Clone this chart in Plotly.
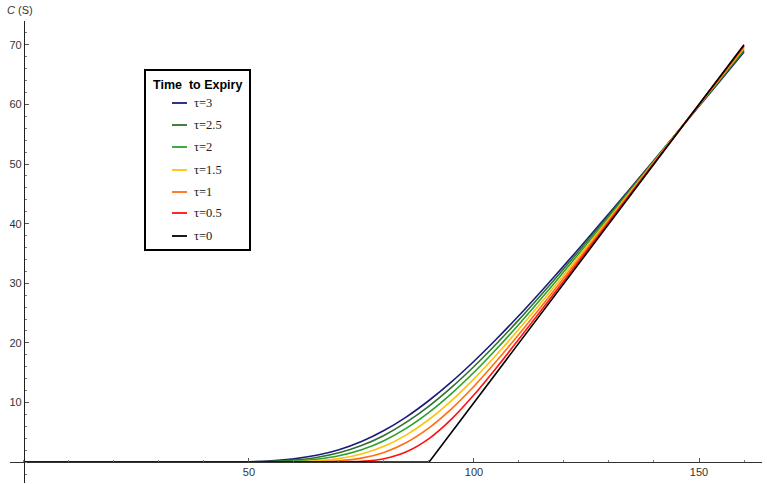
import plotly.graph_objects as go

# ---------------- data ----------------
S = [0, 30, 40, 45, 50, 55, 60, 65, 70, 75, 80, 85, 90, 95, 100, 105, 110,
     115, 120, 125, 130, 135, 140, 145, 150, 155, 160]
C_tau3 = [0, 0, 0, 0.02, 0.07, 0.22, 0.55, 1.14, 2.08, 3.46, 5.30, 7.60, 10.34,
          13.46, 16.92, 20.65, 24.60, 28.72, 32.96, 37.30, 41.71, 46.16, 50.66,
          55.17, 59.70, 64.25, 68.80]
C_tau25 = [0, 0, 0, 0.01, 0.03, 0.12, 0.34, 0.78, 1.56, 2.78, 4.48, 6.70, 9.40,
           12.54, 16.05, 19.86, 23.90, 28.13, 32.48, 36.92, 41.43, 45.98, 50.56,
           55.16, 59.78, 64.40, 69.03]
C_tau2 = [0, 0, 0, 0, 0.01, 0.05, 0.17, 0.47, 1.06, 2.07, 3.60, 5.70, 8.35,
          11.50, 15.07, 18.98, 23.14, 27.49, 31.96, 36.52, 41.14, 45.79, 50.46,
          55.15, 59.85, 64.55, 69.25]
C_tau15 = [0, 0, 0, 0, 0, 0.01, 0.06, 0.21, 0.59, 1.36, 2.65, 4.58, 7.15,
           10.32, 13.97, 18.01, 22.32, 26.82, 31.43, 36.12, 40.84, 45.59, 50.36,
           55.13, 59.91, 64.68, 69.46]
C_tau1 = [0, 0, 0, 0, 0, 0, 0.01, 0.05, 0.22, 0.67, 1.63, 3.29, 5.74,
          8.93, 12.72, 16.95, 21.47, 26.14, 30.91, 35.72, 40.56, 45.40, 50.25,
          55.10, 59.96, 64.81, 69.66]
C_tau05 = [0, 0, 0, 0, 0, 0, 0, 0, 0.02, 0.13, 0.58, 1.74, 3.94,
           7.21, 11.29, 15.85, 20.64, 25.53, 30.44, 35.36, 40.29, 45.21, 50.14,
           55.06, 59.99, 64.91, 69.84]
S_tau0 = [0, 90, 160]
C_tau0 = [0, 0, 70]

series_labels = ["τ=3", "τ=2.5", "τ=2", "τ=1.5", "τ=1", "τ=0.5", "τ=0"]
colors = ["#1b1b7e", "#2e7030", "#2ca02c", "#ffc20e", "#ff6f10", "#ff1010", "#000000"]

x_ticks = [50, 100, 150]
y_ticks = [10, 20, 30, 40, 50, 60, 70]

# ---------------- figure ----------------
W, H = 767, 484
ML, MR, MT, MB = 10, 5, 21, 1
XR = [-3.1, 164]
YR = [-3.5, 74]

def px(xp):
    return (xp - ML) / (W - ML - MR)

def py(yp):
    return 1 - (yp - MT) / (H - MT - MB)

fig = go.Figure()
curves = [(S, C_tau3), (S, C_tau25), (S, C_tau2), (S, C_tau15), (S, C_tau1),
          (S, C_tau05), (S_tau0, C_tau0)]
for (xs, ys), lab, col in zip(curves, series_labels, colors):
    fig.add_trace(go.Scatter(
        x=xs, y=ys, mode="lines", name=lab, showlegend=False,
        line=dict(color=col, width=1.6,
                  shape="spline" if len(xs) > 3 else "linear", smoothing=0.8),
        hoverinfo="skip"))

tickfont = dict(family="Liberation Sans, Arial, sans-serif", size=11, color="#333")
fig.update_layout(
    width=W, height=H,
    margin=dict(l=ML, r=MR, t=MT, b=MB, autoexpand=False),
    plot_bgcolor="white", paper_bgcolor="white",
    xaxis=dict(range=XR, anchor="free", position=3.5 / 77.5, automargin=False,
               showline=True, linecolor="#333", linewidth=1,
               showgrid=False, zeroline=False,
               tickvals=x_ticks, ticks="inside", ticklen=4, tickcolor="#555",
               tickfont=tickfont,
               minor=dict(dtick=10, tick0=0, ticks="inside", ticklen=2.5,
                          tickcolor="#777", showgrid=False)),
    yaxis=dict(range=YR, anchor="free", position=3.1 / 167.1, automargin=False,
               showline=True, linecolor="#222", linewidth=1,
               showgrid=False, zeroline=False,
               tickvals=y_ticks, ticks="inside", ticklen=4, tickcolor="#555",
               tickfont=tickfont,
               minor=dict(dtick=2, tick0=0, ticks="inside", ticklen=2.5,
                          tickcolor="#777", showgrid=False)),
)

# axis label C(S)
fig.add_annotation(x=px(5), y=py(10), xref="paper", yref="paper",
                   xanchor="left", yanchor="middle", showarrow=False,
                   text="<i>C</i> (S)",
                   font=dict(family="Liberation Sans, Arial, sans-serif", size=11, color="#333"))

# legend box
fig.add_shape(type="rect", xref="paper", yref="paper",
              x0=px(145), x1=px(250), y0=py(250), y1=py(70),
              line=dict(color="black", width=2), fillcolor="white", layer="above")
fig.add_annotation(x=px(197), y=py(85), xref="paper", yref="paper",
                   xanchor="center", yanchor="middle", showarrow=False,
                   text="<b>Time  to Expiry</b>",
                   font=dict(family="Liberation Sans, Arial, sans-serif", size=12.5, color="black"))
item_y = [103, 125, 147, 170, 192, 213, 236]
for lab, col, yy in zip(series_labels, colors, item_y):
    fig.add_shape(type="line", xref="paper", yref="paper",
                  x0=px(172), x1=px(187), y0=py(yy), y1=py(yy),
                  line=dict(color=col, width=1.8), layer="above")
    fig.add_annotation(x=px(192), y=py(yy), xref="paper", yref="paper",
                       xanchor="left", yanchor="middle", showarrow=False,
                       text=lab,
                       font=dict(family="Liberation Serif, Times New Roman, serif", size=12.5, color="#222"))

fig.write_html("out.html",
               config={"displayModeBar": False, "staticPlot": True},
               post_script="document.body.style.margin='0';document.body.style.overflow='hidden';")
